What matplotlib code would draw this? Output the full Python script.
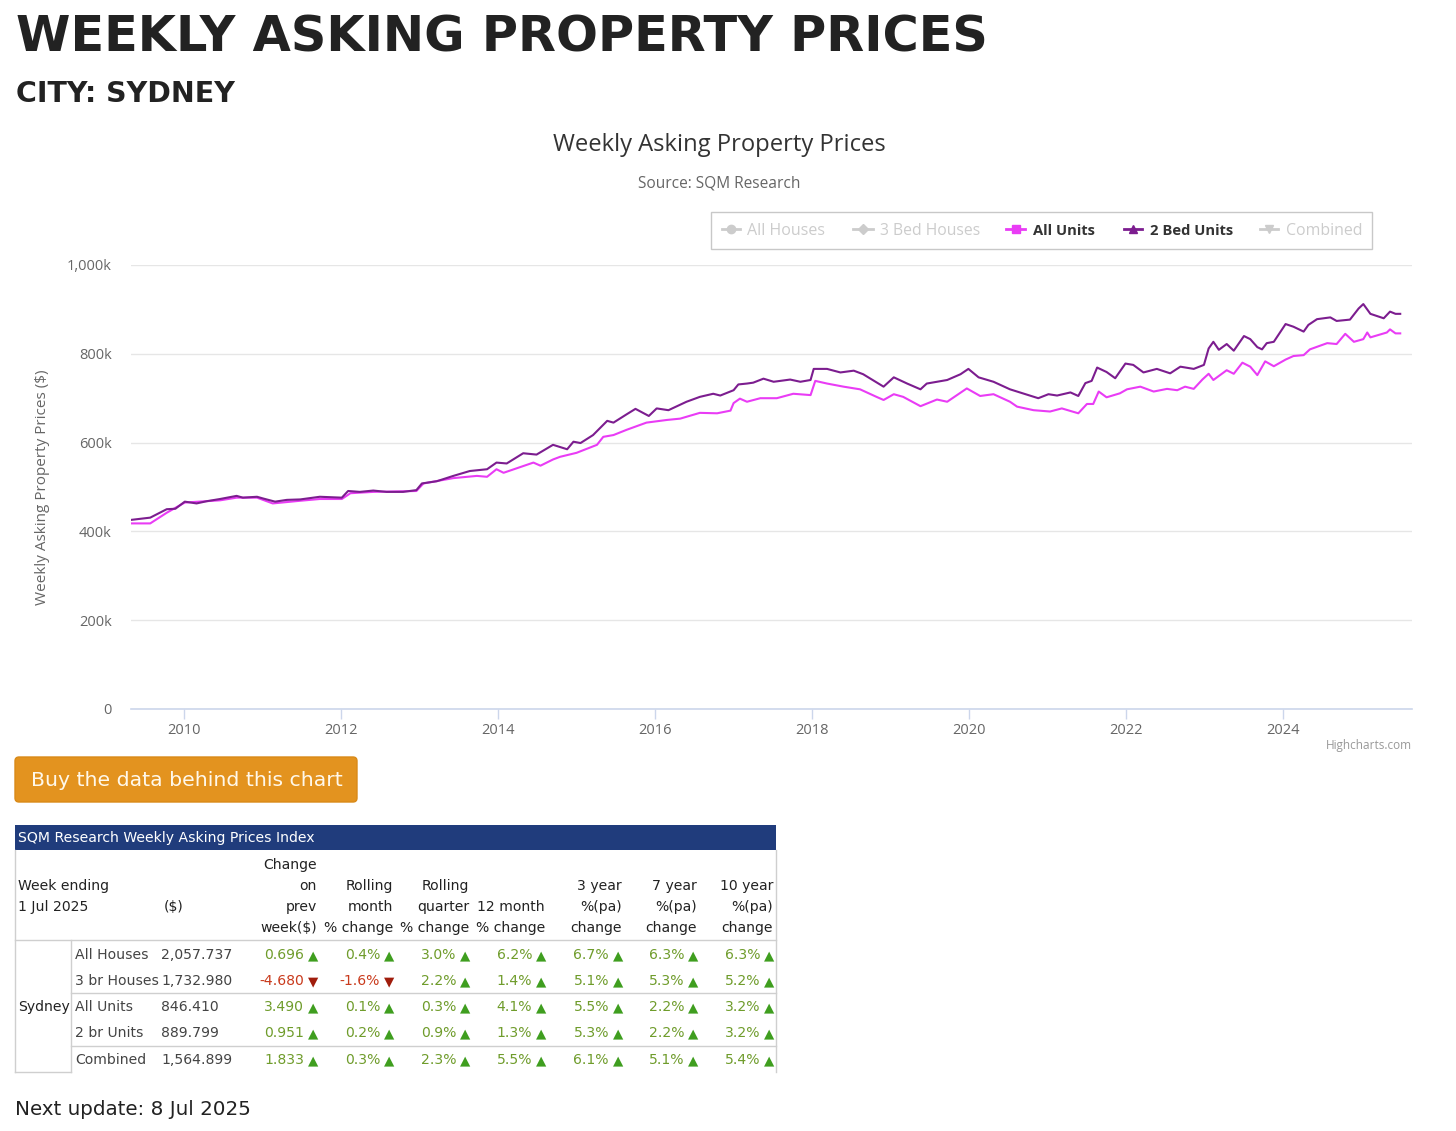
import matplotlib
matplotlib.use("Agg")
import matplotlib.pyplot as plt
from matplotlib.patches import FancyBboxPatch, Rectangle
from matplotlib.lines import Line2D

W, H = 1456, 1131

# ---------------- data ----------------
units_years = [2009.33, 2009.57, 2009.78, 2010.01, 2010.46, 2010.67, 2010.93, 2011.13, 2011.48, 2011.73,
               2012.01, 2012.12, 2012.41, 2012.96, 2013.05, 2013.43, 2013.73, 2013.86, 2013.98, 2014.07,
               2014.45, 2014.54, 2014.70, 2014.79, 2015.00, 2015.26, 2015.34, 2015.47, 2015.64, 2015.89,
               2016.15, 2016.32, 2016.57, 2016.79, 2016.96, 2017.00, 2017.08, 2017.17, 2017.34, 2017.55,
               2017.76, 2017.98, 2018.04, 2018.19, 2018.40, 2018.61, 2018.82, 2018.91, 2019.04, 2019.16,
               2019.38, 2019.59, 2019.72, 2019.97, 2020.14, 2020.31, 2020.52, 2020.61, 2020.82, 2021.03,
               2021.18, 2021.39, 2021.50, 2021.58, 2021.65, 2021.75, 2021.92, 2022.01, 2022.18, 2022.35,
               2022.52, 2022.65, 2022.75, 2022.86, 2022.97, 2023.05, 2023.11, 2023.28, 2023.37, 2023.48,
               2023.58, 2023.67, 2023.77, 2023.88, 2024.03, 2024.13, 2024.26, 2024.34, 2024.56, 2024.68,
               2024.79, 2024.90, 2025.02, 2025.07, 2025.11, 2025.32, 2025.36, 2025.43, 2025.49]
units_k = [418, 418, 442, 465, 470, 476, 476, 463, 469, 473,
           473, 486, 489, 491, 508, 520, 525, 523, 540, 532,
           555, 548, 562, 568, 577, 595, 613, 617, 629, 645,
           651, 654, 667, 666, 672, 689, 699, 692, 700, 700,
           710, 707, 739, 733, 726, 720, 703, 696, 709, 703,
           682, 697, 692, 722, 705, 709, 692, 681, 673, 670,
           677, 666, 687, 687, 715, 702, 711, 720, 726, 715,
           721, 718, 726, 721, 742, 755, 741, 763, 755, 780,
           771, 752, 783, 772, 787, 795, 797, 810, 824, 822,
           845, 827, 833, 848, 837, 848, 855, 846, 846]

bed2_years = [2009.33, 2009.57, 2009.78, 2009.89, 2010.01, 2010.16, 2010.29, 2010.46, 2010.67, 2010.75,
              2010.93, 2011.01, 2011.16, 2011.31, 2011.48, 2011.73, 2012.01, 2012.09, 2012.24, 2012.41,
              2012.58, 2012.79, 2012.96, 2013.03, 2013.22, 2013.43, 2013.64, 2013.86, 2013.98, 2014.11,
              2014.32, 2014.49, 2014.70, 2014.88, 2014.96, 2015.05, 2015.21, 2015.39, 2015.47, 2015.64,
              2015.75, 2015.92, 2016.02, 2016.17, 2016.40, 2016.57, 2016.74, 2016.83, 2017.00, 2017.06,
              2017.17, 2017.25, 2017.38, 2017.51, 2017.72, 2017.85, 2017.98, 2018.02, 2018.19, 2018.36,
              2018.53, 2018.65, 2018.91, 2019.04, 2019.21, 2019.38, 2019.46, 2019.72, 2019.89, 2019.99,
              2020.12, 2020.31, 2020.52, 2020.61, 2020.88, 2021.01, 2021.12, 2021.29, 2021.39, 2021.48,
              2021.56, 2021.63, 2021.75, 2021.86, 2021.99, 2022.09, 2022.22, 2022.39, 2022.56, 2022.69,
              2022.86, 2022.99, 2023.05, 2023.11, 2023.18, 2023.28, 2023.37, 2023.50, 2023.58, 2023.67,
              2023.73, 2023.79, 2023.88, 2024.03, 2024.13, 2024.26, 2024.32, 2024.43, 2024.60, 2024.68,
              2024.85, 2024.96, 2025.02, 2025.11, 2025.28, 2025.36, 2025.43, 2025.49]
bed2_k = [426, 431, 450, 451, 467, 463, 468, 473, 480, 476,
          478, 474, 467, 471, 472, 478, 476, 491, 489, 492,
          489, 489, 493, 508, 513, 525, 536, 540, 555, 553,
          576, 573, 595, 585, 602, 599, 617, 649, 645, 664,
          676, 660, 677, 673, 692, 703, 710, 706, 718, 731,
          733, 735, 744, 737, 742, 737, 741, 766, 766, 758,
          762, 754, 726, 747, 733, 720, 733, 741, 754, 766,
          747, 737, 720, 715, 700, 709, 706, 713, 705, 734,
          739, 769, 759, 745, 778, 775, 758, 766, 756, 771,
          766, 775, 812, 827, 809, 822, 807, 840, 833, 815,
          810, 824, 827, 867, 861, 850, 865, 878, 882, 874,
          877, 902, 912, 890, 880, 895, 890, 890]

y_ticks = [0, 200, 400, 600, 800, 1000]
y_tick_labels = ["0", "200k", "400k", "600k", "800k", "1,000k"]
x_ticks = [2010, 2012, 2014, 2016, 2018, 2020, 2022, 2024]
x_tick_labels = ["2010", "2012", "2014", "2016", "2018", "2020", "2022", "2024"]

legend_names = ["All Houses", "3 Bed Houses", "All Units", "2 Bed Units", "Combined"]
legend_active = [False, False, True, True, False]

table_title = "SQM Research Weekly Asking Prices Index"
table_city = "Sydney"
table_rows = ["All Houses", "3 br Houses", "All Units", "2 br Units", "Combined"]
table_prices = ["2,057.737", "1,732.980", "846.410", "889.799", "1,564.899"]
col_week = ["0.696", "-4.680", "3.490", "0.951", "1.833"]
col_month = ["0.4%", "-1.6%", "0.1%", "0.2%", "0.3%"]
col_quarter = ["3.0%", "2.2%", "0.3%", "0.9%", "2.3%"]
col_12m = ["6.2%", "1.4%", "4.1%", "1.3%", "5.5%"]
col_3y = ["6.7%", "5.1%", "5.5%", "5.3%", "6.1%"]
col_7y = ["6.3%", "5.3%", "2.2%", "2.2%", "5.1%"]
col_10y = ["6.3%", "5.2%", "3.2%", "3.2%", "5.4%"]
col_headers = [["Change", "on", "prev", "week($)"],
               ["", "Rolling", "month", "% change"],
               ["", "Rolling", "quarter", "% change"],
               ["", "", "12 month", "% change"],
               ["", "3 year", "%(pa)", "change"],
               ["", "7 year", "%(pa)", "change"],
               ["", "10 year", "%(pa)", "change"]]

# ---------------- styling ----------------
C_UNITS = "#e93cf5"
C_BED2 = "#7c1d8f"
C_GREEN = "#6f9c2b"
C_GREEN_TRI = "#3f9e1f"
C_RED = "#c93a1c"
C_RED_TRI = "#a01d0c"
C_GRID = "#e6e6e6"
C_BORDER = "#cfcfcf"
CHART_FONT = "Open Sans"
PAGE_FONT = "DejaVu Sans"
HEAD_FONT = "DejaVu Sans"

fig = plt.figure(figsize=(W / 100, H / 100), dpi=100)
fig.patch.set_facecolor("white")
renderer = fig.canvas.get_renderer()


def fx(x):
    return x / W


def fy(y):
    return 1 - y / H


def put(x, y, s, size, ha="left", va="baseline", **kw):
    return fig.text(fx(x), fy(y), s, fontsize=size, ha=ha, va=va, **kw)


def fit(x0, x1, y, s, ha="left", va="baseline", **kw):
    t = fig.text(fx(x0), fy(y), s, fontsize=20, ha="left", va=va, **kw)
    w = t.get_window_extent(renderer).width
    size = 20 * (x1 - x0) / w
    t.set_fontsize(size)
    if ha == "center":
        t.set_x(fx((x0 + x1) / 2))
        t.set_ha("center")
    return size


def hline(x0, x1, y, color=C_BORDER, lw=1.0):
    fig.add_artist(Line2D([fx(x0), fx(x1)], [fy(y), fy(y)], color=color, lw=lw))


def vline(x, y0, y1, color=C_BORDER, lw=1.0):
    fig.add_artist(Line2D([fx(x), fx(x)], [fy(y0), fy(y1)], color=color, lw=lw))


# ---------------- page headings ----------------
fit(16, 986, 52, "WEEKLY ASKING PROPERTY PRICES", family=HEAD_FONT, weight="bold", color="#222222")
fit(16, 235, 102, "CITY: SYDNEY", family=HEAD_FONT, weight="bold", color="#222222")

# ---------------- chart ----------------
fit(554, 885, 151, "Weekly Asking Property Prices", ha="center", family=CHART_FONT, color="#333333")
fit(638, 801, 187, "Source: SQM Research", ha="center", family=CHART_FONT, color="#666666")

ax = fig.add_axes([fx(131), fy(709), (1412 - 131) / W, (709 - 265) / H])
ax.plot(units_years, units_k, color=C_UNITS, lw=1.5, solid_joinstyle="round")
ax.plot(bed2_years, bed2_k, color=C_BED2, lw=1.5, solid_joinstyle="round")
ax.set_xlim(2009.325, 2025.64)
ax.set_ylim(0, 1000)
ax.set_yticks(y_ticks)
ax.set_yticklabels(y_tick_labels, family=CHART_FONT, fontsize=10.5, color="#666666")
ax.set_xticks(x_ticks)
ax.set_xticklabels(x_tick_labels, family=CHART_FONT, fontsize=10.5, color="#666666")
ax.tick_params(axis="y", length=0, pad=14)
ax.tick_params(axis="x", length=7, width=1, color="#ccd6eb", pad=3)
ax.grid(axis="y", color=C_GRID, lw=1)
ax.set_axisbelow(True)
for side in ["top", "right", "left"]:
    ax.spines[side].set_visible(False)
ax.spines["bottom"].set_color("#ccd6eb")
ax.spines["bottom"].set_linewidth(1.2)
ax.patch.set_alpha(0)

put(43, 487, "Weekly Asking Property Prices ($)", 11, ha="center", va="center",
    rotation=90, family=CHART_FONT, color="#666666")
put(1412, 749, "Highcharts.com", 8.5, ha="right", family=CHART_FONT, color="#999999")

# legend
fig.add_artist(Rectangle((fx(711), fy(249)), (1372 - 711) / W, (249 - 212) / H,
                         transform=fig.transFigure, facecolor="white", edgecolor="#c8c8c8", lw=1))
leg_markers = ["o", "D", "s", "^", "v"]
leg_sym_x = [(722, 740), (853, 873), (1006, 1025), (1124, 1142), (1260, 1278)]
leg_text_x = [(747, 825), (880, 980), (1033, 1095), (1150, 1233), (1286, 1362)]
leg_colors = ["#cccccc", "#cccccc", C_UNITS, C_BED2, "#cccccc"]
for name, active, mk, (sx0, sx1), (tx0, tx1), col in zip(legend_names, legend_active, leg_markers,
                                                         leg_sym_x, leg_text_x, leg_colors):
    fig.add_artist(Line2D([fx(sx0), fx((sx0 + sx1) / 2), fx(sx1)], [fy(229)] * 3, color=col, lw=2,
                          marker=mk, markevery=[1], markersize=6 if mk != "D" else 5))
    fit(tx0, tx1, 235, name, family=CHART_FONT, weight="bold" if active else "normal",
        color="#333333" if active else "#cccccc")

# ---------------- button ----------------
fig.add_artist(FancyBboxPatch((15 / 100, (H - 802) / 100), (357 - 15) / 100, (802 - 757) / 100,
                              boxstyle="round,pad=0,rounding_size=0.04", transform=fig.dpi_scale_trans,
                              facecolor="#e3931f", edgecolor="#d98a18", lw=1))
fit(31, 341, 786, "Buy the data behind this chart", family=PAGE_FONT, color="#fff8ea")

# ---------------- table ----------------
fig.add_artist(Rectangle((fx(15), fy(850)), (776 - 15) / W, (850 - 825) / H,
                         transform=fig.transFigure, facecolor="#203c7c", edgecolor="none"))
tsize = fit(18, 314, 842, table_title, family=PAGE_FONT, color="white")

head_base = [869, 890, 911, 932]
col_right = [317, 393, 469, 545, 622, 697, 773]
for cr, lines in zip(col_right, col_headers):
    for yb, s in zip(head_base, lines):
        if s:
            put(cr, yb, s, tsize, ha="right", family=PAGE_FONT, color="#222222")
put(18, 890, "Week ending", tsize, family=PAGE_FONT, color="#222222")
put(18, 911, "1 Jul 2025", tsize, family=PAGE_FONT, color="#222222")
put(164, 911, "($)", tsize, family=PAGE_FONT, color="#222222")

hline(15, 776, 940)
hline(71, 776, 993)
hline(71, 776, 1046)
hline(15, 71, 1072)
vline(15, 850, 1072)
vline(71, 940, 1072)
vline(776, 850, 1072)

row_base = [959, 985, 1011, 1037, 1064]
put(18, 1011, table_city, tsize, family=PAGE_FONT, color="#222222")
value_cols = [col_week, col_month, col_quarter, col_12m, col_3y, col_7y, col_10y]
for i, yb in enumerate(row_base):
    put(75, yb, table_rows[i], tsize, family=PAGE_FONT, color="#444444")
    put(161, yb, table_prices[i], tsize, family=PAGE_FONT, color="#444444")
    for cr, col in zip(col_right, value_cols):
        v = col[i]
        neg = v.startswith("-")
        put(cr - 13, yb, v, tsize, ha="right", family=PAGE_FONT, color=C_RED if neg else C_GREEN)
        put(cr + 1, yb, "▼" if neg else "▲", tsize * 0.95, ha="right", family="DejaVu Sans",
            color=C_RED_TRI if neg else C_GREEN_TRI)

fit(15, 251, 1115, "Next update: 8 Jul 2025", family=PAGE_FONT, color="#222222")

fig.savefig("out.png", dpi=100, facecolor="white")
